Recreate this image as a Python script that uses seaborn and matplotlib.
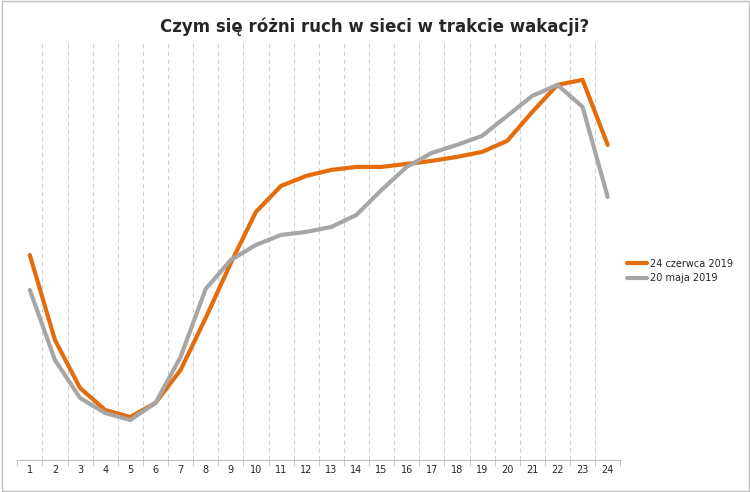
import matplotlib
matplotlib.use("Agg")
import matplotlib.pyplot as plt
import seaborn as sns
import pandas as pd

hours = list(range(1, 25))
czerwiec = [205, 120, 72, 50, 43, 57, 90, 142, 197, 248, 274, 284, 290, 293, 293, 296, 299, 303, 308, 319, 348, 375, 380, 315]
maj = [170, 100, 62, 47, 40, 57, 103, 171, 200, 215, 225, 228, 233, 245, 270, 293, 307, 315, 324, 344, 364, 375, 353, 263]

df = pd.DataFrame({"godz": hours * 2,
                   "ruch": czerwiec + maj,
                   "seria": ["24 czerwca 2019"] * 24 + ["20 maja 2019"] * 24})

sns.set_style("white")
fig = plt.figure(figsize=(7.5, 4.92), dpi=100)
ax = fig.add_axes([0.023, 0.065, 0.804, 0.854])
sns.lineplot(data=df, x="godz", y="ruch", hue="seria",
             palette=["#E46C0A", "#A6A6A6"], linewidth=3, ax=ax)
ax.set_xlim(0.5, 24.5)
ax.set_ylim(0, 420)
for b in range(1, 25):
    ax.axvline(b + 0.5, color="#D0D0D0", linestyle=(0, (4, 3)), linewidth=0.8, zorder=0)
ax.set_xticks(hours)
ax.set_xticks([h + 0.5 for h in range(0, 25)], minor=True)
ax.tick_params(axis="x", which="major", labelsize=7, length=0)
ax.tick_params(axis="x", which="minor", length=4, color="#BFBFBF", bottom=True)
ax.set_yticks([])
ax.set_xlabel("")
ax.set_ylabel("")
for s in ["top", "right", "left"]:
    ax.spines[s].set_visible(False)
ax.spines["bottom"].set_color("#BFBFBF")
ax.legend(loc="center left", bbox_to_anchor=(1.0, 0.45), frameon=False, fontsize=7,
          handlelength=2.0, handletextpad=0.4, borderaxespad=0.3)
fig.suptitle("Czym się różni ruch w sieci w trakcie wakacji?", fontsize=12, fontweight="bold", y=0.965)
fig.patches.append(plt.Rectangle((0.002, 0.002), 0.996, 0.996, transform=fig.transFigure,
                                 fill=False, edgecolor="#BFBFBF", linewidth=1))
fig.savefig("out.png")
